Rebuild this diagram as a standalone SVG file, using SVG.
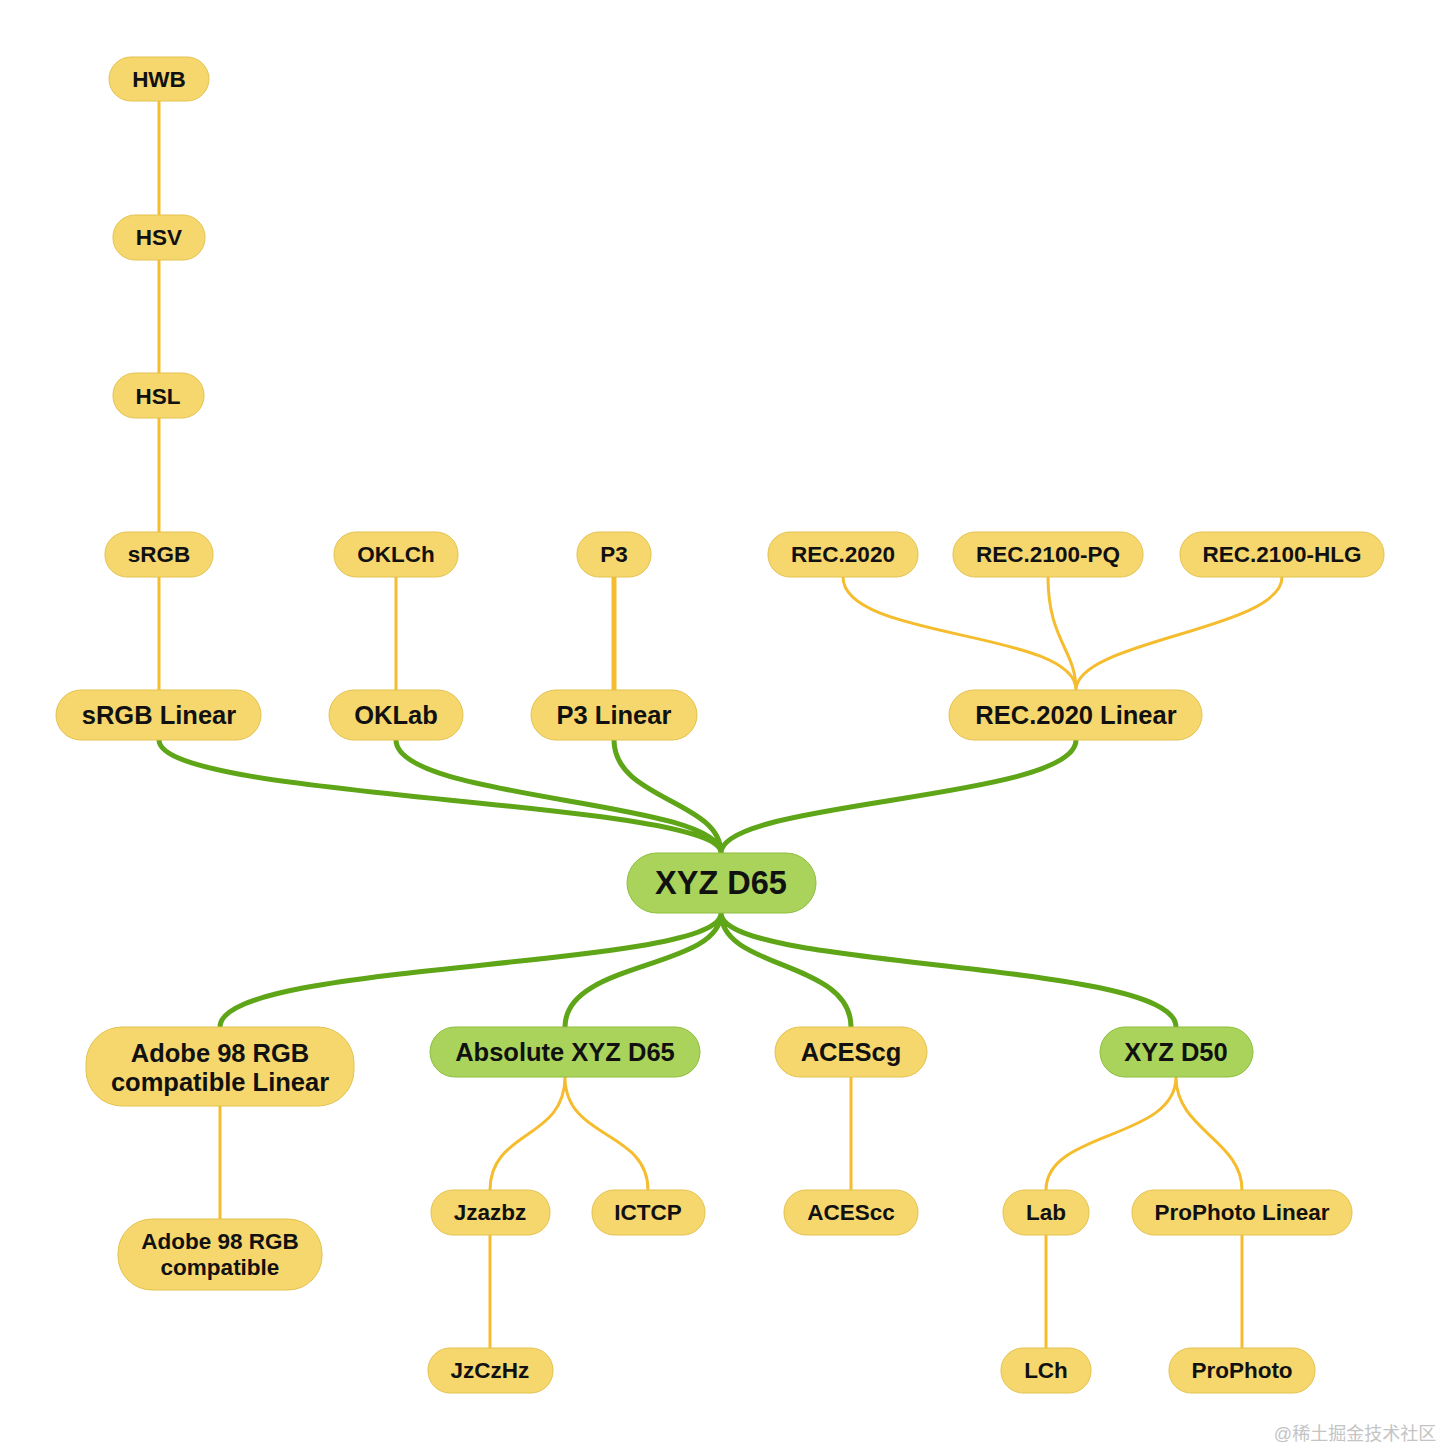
<svg xmlns="http://www.w3.org/2000/svg" width="1440" height="1450" viewBox="0 0 1440 1450">
<style>
.y rect{fill:#f5d76e;stroke:#e3c24e;stroke-width:1}
.g rect{fill:#a9d35a;stroke:#8fbd3f;stroke-width:1}
text{font-family:"Liberation Sans",Arial,sans-serif;font-weight:bold;fill:#111;text-anchor:middle}
.s text{font-size:22.5px}
.m text{font-size:25.5px}
.yl{fill:none;stroke:#f5bd2e;stroke-width:3}
.gl{fill:none;stroke:#5ea518;stroke-width:5}
</style>
<rect width="1440" height="1450" fill="#fff"/>
<g id="connectors">
<path class="yl" d="M159,101V215M159,260V373M159,418V532M159,577V690M396,577V690M220,1106V1219M851,1077V1190M490,1235V1348M1046,1235V1348M1242,1235V1348"/>
<path class="yl" style="stroke-width:5" d="M614,577V690"/>
<path class="yl" d="M843,577C843,640 1076,630 1076,690M1048,577C1048,640 1076,650 1076,690M1282,577C1282,630 1076,640 1076,690"/>
<path class="yl" d="M565,1077C565,1140 490,1130 490,1190M565,1077C565,1140 648,1130 648,1190M1176,1077C1176,1140 1046,1130 1046,1190M1176,1077C1176,1130 1242,1140 1242,1190"/>
<path class="gl" d="M159,740C159,800 721,800 721,853M396,740C396,800 721,800 721,853M614,740C614,800 721,800 721,853M1076,740C1076,800 721,800 721,853"/>
<path class="gl" d="M721,913C721,970 220,960 220,1027M721,913C721,970 565,960 565,1027M721,913C721,970 851,960 851,1027M721,913C721,970 1176,960 1176,1027"/>
</g>
<g id="n-hwb" class="y s"><rect x="109" y="57" width="100" height="44" rx="22"/><text x="159" y="87">HWB</text></g>
<g id="n-hsv" class="y s"><rect x="113" y="215" width="92" height="45" rx="22"/><text x="159" y="245">HSV</text></g>
<g id="n-hsl" class="y s"><rect x="113" y="373" width="91" height="45" rx="22"/><text x="158" y="404">HSL</text></g>
<g id="n-srgb" class="y s"><rect x="105" y="532" width="108" height="45" rx="22"/><text x="159" y="562">sRGB</text></g>
<g id="n-oklch" class="y s"><rect x="334" y="532" width="124" height="45" rx="22"/><text x="396" y="562">OKLCh</text></g>
<g id="n-p3" class="y s"><rect x="577" y="532" width="74" height="45" rx="22"/><text x="614" y="562">P3</text></g>
<g id="n-rec2020" class="y s"><rect x="768" y="532" width="150" height="45" rx="22"/><text x="843" y="562">REC.2020</text></g>
<g id="n-rec2100pq" class="y s"><rect x="953" y="532" width="190" height="45" rx="22"/><text x="1048" y="562">REC.2100-PQ</text></g>
<g id="n-rec2100hlg" class="y s"><rect x="1180" y="532" width="204" height="45" rx="22"/><text x="1282" y="562">REC.2100-HLG</text></g>
<g id="n-srgblinear" class="y m"><rect x="56" y="690" width="205" height="50" rx="25"/><text x="159" y="724">sRGB Linear</text></g>
<g id="n-oklab" class="y m"><rect x="329" y="690" width="134" height="50" rx="25"/><text x="396" y="724">OKLab</text></g>
<g id="n-p3linear" class="y m"><rect x="531" y="690" width="166" height="50" rx="25"/><text x="614" y="724">P3 Linear</text></g>
<g id="n-rec2020linear" class="y m"><rect x="949" y="690" width="253" height="50" rx="25"/><text x="1076" y="724">REC.2020 Linear</text></g>
<g id="n-xyzd65" class="g"><rect x="627" y="853" width="189" height="60" rx="30"/><text x="721" y="894" style="font-size:32.5px">XYZ D65</text></g>
<g id="n-a98linear" class="y m"><rect x="86" y="1027" width="268" height="79" rx="36"/><text x="220" y="1062">Adobe 98 RGB</text><text x="220" y="1091">compatible Linear</text></g>
<g id="n-absxyz" class="g m"><rect x="430" y="1027" width="270" height="50" rx="25"/><text x="565" y="1061">Absolute XYZ D65</text></g>
<g id="n-acescg" class="y m"><rect x="775" y="1027" width="152" height="50" rx="25"/><text x="851" y="1061">ACEScg</text></g>
<g id="n-xyzd50" class="g m"><rect x="1100" y="1027" width="153" height="50" rx="25"/><text x="1176" y="1061">XYZ D50</text></g>
<g id="n-a98" class="y s"><rect x="118" y="1219" width="204" height="71" rx="34"/><text x="220" y="1249">Adobe 98 RGB</text><text x="220" y="1275">compatible</text></g>
<g id="n-jzazbz" class="y s"><rect x="431" y="1190" width="119" height="45" rx="22"/><text x="490" y="1220">Jzazbz</text></g>
<g id="n-ictcp" class="y s"><rect x="592" y="1190" width="113" height="45" rx="22"/><text x="648" y="1220">ICTCP</text></g>
<g id="n-acescc" class="y s"><rect x="784" y="1190" width="134" height="45" rx="22"/><text x="851" y="1220">ACEScc</text></g>
<g id="n-lab" class="y s"><rect x="1003" y="1190" width="86" height="45" rx="22"/><text x="1046" y="1220">Lab</text></g>
<g id="n-prophotolinear" class="y s"><rect x="1132" y="1190" width="220" height="45" rx="22"/><text x="1242" y="1220">ProPhoto Linear</text></g>
<g id="n-jzczhz" class="y s"><rect x="428" y="1348" width="125" height="45" rx="22"/><text x="490" y="1378">JzCzHz</text></g>
<g id="n-lch" class="y s"><rect x="1001" y="1348" width="90" height="45" rx="22"/><text x="1046" y="1378">LCh</text></g>
<g id="n-prophoto" class="y s"><rect x="1169" y="1348" width="146" height="45" rx="22"/><text x="1242" y="1378">ProPhoto</text></g>
<text x="1355" y="1440" style="font-size:18px;font-weight:normal;fill:#c4c4c4;font-family:'Liberation Sans','Noto Sans CJK SC',sans-serif">@稀土掘金技术社区</text>
</svg>
